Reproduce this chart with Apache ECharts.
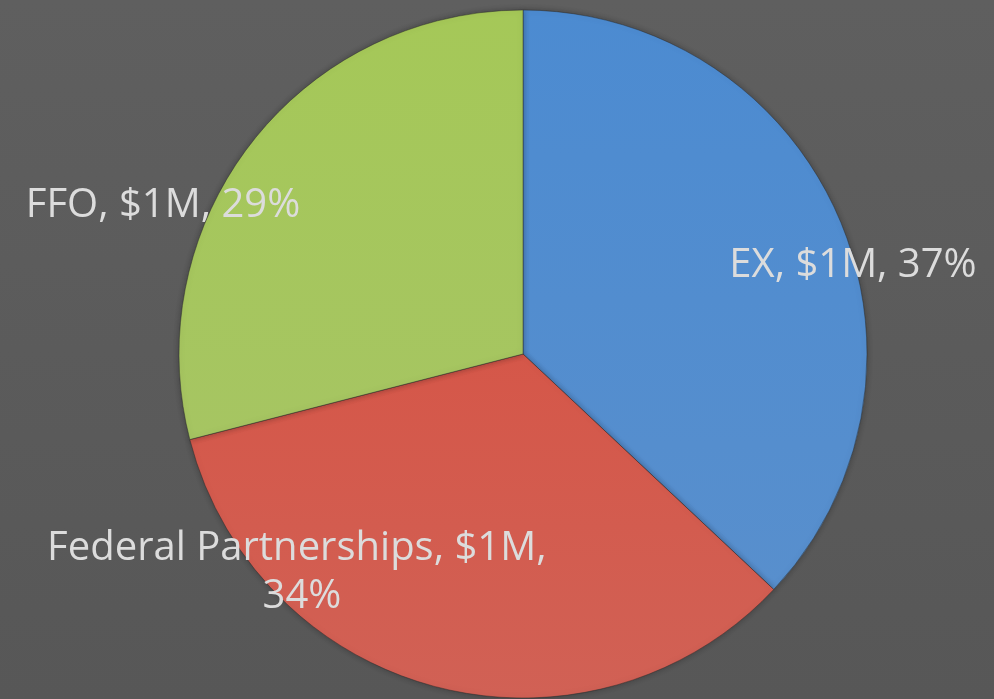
<!DOCTYPE html>
<html>
<head>
<meta charset="utf-8">
<style>
  html, body { margin: 0; padding: 0; background: #5b5b5b; }
  #chart { width: 994px; height: 699px; }
</style>
<script src="https://cdn.jsdelivr.net/npm/echarts@6/dist/echarts.min.js"></script>
</head>
<body>
<div id="chart"></div>
<script>
// slice data, clockwise from 12 o'clock
const categories = ['EX', 'Federal Partnerships', 'FFO']
const shares = [37, 34, 29]
const amounts = ['$1M', '$1M', '$1M']
const colors = ['#4a86c9', '#cd5447', '#9fc155']

// where each label sits (Excel-style best fit, hand placed)
const labelSpots = [
  { x: 853, y: 266 },
  { x: 302, y: 573 },
  { x: 163, y: 206 }
]

const chart = echarts.init(document.getElementById('chart'))

const option = {
  backgroundColor: {
    type: 'linear', x: 0, y: 0, x2: 0, y2: 1,
    colorStops: [
      { offset: 0, color: '#5f5f5f' },
      { offset: 1, color: '#575757' }
    ]
  },
  animation: false,
  series: [
    {
      type: 'pie',
      center: [523, 354],
      radius: 344,
      startAngle: 90,
      clockwise: true,
      percentPrecision: 0,
      itemStyle: {
        borderColor: 'rgba(40,40,40,0.45)',
        borderWidth: 1,
        shadowBlur: 6,
        shadowColor: 'rgba(0,0,0,0.3)'
      },
      label: {
        show: true,
        position: 'inside',
        color: '#dcdcdc',
        fontFamily: 'Open Sans',
        fontSize: 40,
        lineHeight: 48,
        width: 540,
        overflow: 'break',
        align: 'center',
        formatter: (p) => `${p.name}, ${amounts[p.dataIndex]}, ${p.percent}%`
      },
      labelLine: { show: false },
      labelLayout: (params) => ({
        x: labelSpots[params.dataIndex].x,
        y: labelSpots[params.dataIndex].y,
        align: 'center',
        verticalAlign: 'middle'
      }),
      emphasis: { disabled: true },
      data: categories.map((name, i) => ({
        name,
        value: shares[i],
        itemStyle: {
          color: {
            type: 'linear', x: 0, y: 0, x2: 0, y2: 1,
            colorStops: [
              { offset: 0, color: echarts.color.lift(colors[i], -0.04) },
              { offset: 1, color: echarts.color.lift(colors[i], 0.08) }
            ]
          }
        }
      }))
    }
  ]
}

chart.setOption(option)
</script>
</body>
</html>
